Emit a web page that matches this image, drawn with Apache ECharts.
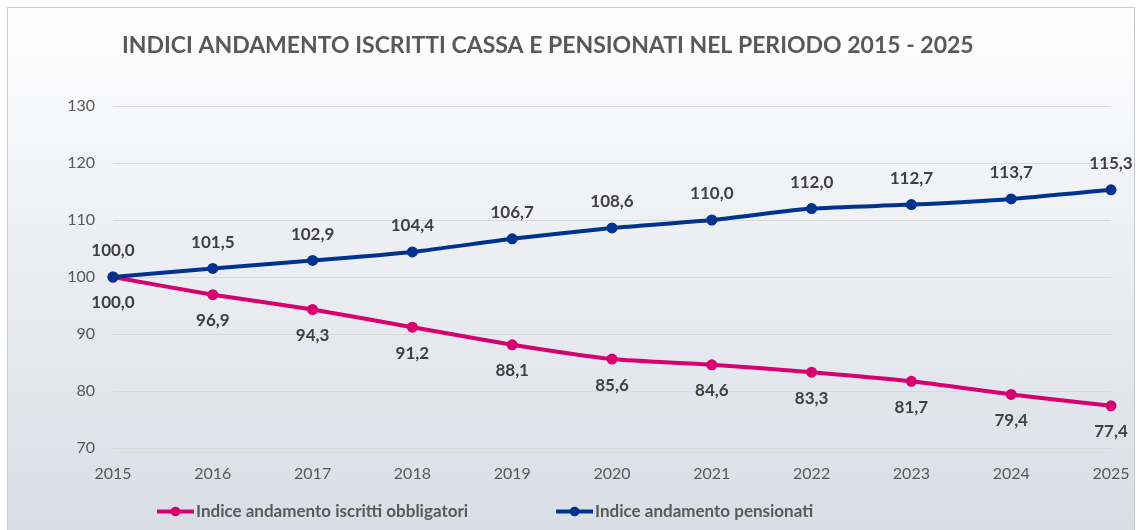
<!DOCTYPE html>
<html lang="it">
<head>
  <meta charset="UTF-8">
  <title>Indici andamento</title>
  <script src="https://cdn.jsdelivr.net/npm/echarts@6/dist/echarts.min.js"></script>
  <style>
    html, body { margin: 0; padding: 0; background: #ffffff; }
    .box {
      position: absolute; left: 7px; top: 7px; width: 1126px; height: 540px;
      border: 1px solid #c8c8c8;
      background: linear-gradient(to bottom, #ffffff 0%, #eef0f4 40%, #d8dce5 100%);
    }
    #chart { position: absolute; left: 0; top: 0; width: 1137px; height: 530px; }
  </style>
</head>
<body>
  <div class="box"></div>
  <div id="chart"></div>
  <script>
    // dati
    const anni = ['2015', '2016', '2017', '2018', '2019', '2020', '2021', '2022', '2023', '2024', '2025'];
    const iscritti = [100.0, 96.9, 94.3, 91.2, 88.1, 85.6, 84.6, 83.3, 81.7, 79.4, 77.4];
    const pensionati = [100.0, 101.5, 102.9, 104.4, 106.7, 108.6, 110.0, 112.0, 112.7, 113.7, 115.3];
    const nomi = ['Indice andamento iscritti obbligatori', 'Indice andamento pensionati'];

    const font = 'Lato, "Open Sans", sans-serif';
    const fmt = p => p.value.toFixed(1).replace('.', ',');

    let chart = echarts.init(document.getElementById('chart'), null, { renderer: 'canvas' });

    let option = {
      backgroundColor: 'transparent',
      title: {
        text: 'INDICI ANDAMENTO ISCRITTI CASSA E PENSIONATI NEL PERIODO 2015 - 2025',
        left: 117,
        top: 29,
        textStyle: { color: '#595959', fontSize: 23, fontWeight: 'bold', fontFamily: font }
      },
      legend: {
        top: 498,
        left: 150,
        itemGap: 86,
        itemWidth: 37,
        itemHeight: 12,
        lineStyle: { width: 4 },
        textStyle: { color: '#595959', fontSize: 17, fontWeight: 'bold', fontFamily: font, padding: [0, 0, 0, -3] },
        data: nomi
      },
      grid: { left: 113, right: 26, top: 106, bottom: 82 },
      xAxis: {
        type: 'category',
        data: anni,
        boundaryGap: false,
        axisLine: { show: false },
        axisTick: { show: false },
        axisLabel: { color: '#595959', fontSize: 16, fontFamily: font, margin: 18 }
      },
      yAxis: {
        type: 'value',
        min: 70,
        max: 130,
        interval: 10,
        axisLine: { show: false },
        axisTick: { show: false },
        axisLabel: { color: '#595959', fontSize: 16, fontFamily: font, margin: 18 },
        splitLine: { lineStyle: { color: '#d9d9d9', width: 1 } }
      },
      series: [
        {
          name: nomi[0],
          type: 'line',
          data: iscritti,
          smooth: 0.2,
          symbol: 'circle',
          symbolSize: 11,
          color: '#d6006e',
          lineStyle: { width: 4, color: '#d6006e' },
          itemStyle: { color: '#d6006e' },
          label: {
            show: true, position: 'bottom', distance: 12, formatter: fmt,
            color: '#404040', fontSize: 17, fontWeight: 'bold', fontFamily: font
          },
          z: 2
        },
        {
          name: nomi[1],
          type: 'line',
          data: pensionati,
          smooth: 0.2,
          symbol: 'circle',
          symbolSize: 11,
          color: '#00338d',
          lineStyle: { width: 4, color: '#00338d' },
          itemStyle: { color: '#00338d' },
          label: {
            show: true, position: 'top', distance: 12, formatter: fmt,
            color: '#404040', fontSize: 17, fontWeight: 'bold', fontFamily: font
          },
          z: 3
        }
      ]
    };

    chart.setOption(option);
  </script>
</body>
</html>
